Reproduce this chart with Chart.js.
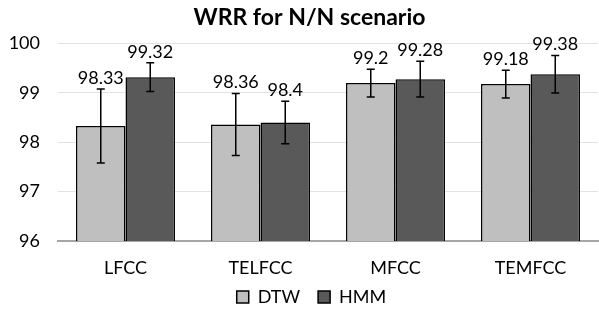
<!DOCTYPE html>
<html>
<head>
<meta charset="utf-8">
<script src="https://cdn.jsdelivr.net/npm/chart.js@4.4.0/dist/chart.umd.min.js"></script>
<style>
  html, body { margin: 0; padding: 0; background: #fff; }
  #wrap { width: 599px; height: 309px; }
</style>
</head>
<body>
<div id="wrap"><canvas id="myChart" width="599" height="309"></canvas></div>
<script>
const labels = ['LFCC', 'TELFCC', 'MFCC', 'TEMFCC'];
const dtw = [98.33, 98.36, 99.2, 99.18];
const hmm = [99.32, 98.4, 99.28, 99.38];
// error bar half-widths
const dtwErr = [0.75, 0.63, 0.28, 0.28];
const hmmErr = [0.29, 0.43, 0.36, 0.38];

const FONT = 'Lato, "Open Sans", sans-serif';

// draws the error bars and the value labels above them
const errorBars = {
  id: 'errorBars',
  afterDatasetsDraw(chart) {
    const ctx = chart.ctx;
    const y = chart.scales.y;
    const errs = [dtwErr, hmmErr];
    ctx.save();
    chart.data.datasets.forEach((ds, i) => {
      const meta = chart.getDatasetMeta(i);
      meta.data.forEach((bar, j) => {
        const v = ds.data[j];
        const e = errs[i][j];
        const top = y.getPixelForValue(v + e);
        const bot = y.getPixelForValue(v - e);
        ctx.strokeStyle = '#000';
        ctx.lineWidth = 1.5;
        ctx.beginPath();
        ctx.moveTo(bar.x, top);
        ctx.lineTo(bar.x, bot);
        ctx.moveTo(bar.x - 4, top);
        ctx.lineTo(bar.x + 4, top);
        ctx.moveTo(bar.x - 4, bot);
        ctx.lineTo(bar.x + 4, bot);
        ctx.stroke();

        ctx.fillStyle = '#000';
        ctx.font = '18px ' + FONT;
        ctx.textAlign = 'center';
        ctx.textBaseline = 'bottom';
        ctx.fillText(String(v), bar.x, top - 2);
      });
    });
    ctx.restore();
  }
};

// legend sits a little closer to the axis labels than the layout allows,
// and legend + title are a bit right of the canvas centre
const nudge = {
  id: 'nudge',
  beforeDraw(chart) {
    const lg = chart.legend;
    lg.top = 270;
    lg.left = 12;
    lg.right = chart.width + 12;
    const tb = chart.titleBlock;
    tb.left = 10;
    tb.right = chart.width + 10;
  }
};

const data = {
  labels,
  datasets: [
    {
      label: 'DTW',
      data: dtw,
      backgroundColor: '#bfbfbf',
      borderColor: '#000',
      borderWidth: 1.5,
    },
    {
      label: 'HMM',
      data: hmm,
      backgroundColor: '#595959',
      borderColor: '#000',
      borderWidth: 1.5,
    },
  ],
};

const config = {
  type: 'bar',
  data: data,
  options: {
    responsive: false,
    animation: false,
    layout: { padding: { left: 0, right: 1, top: 4, bottom: 0 } },
    datasets: {
      bar: { categoryPercentage: 0.733, barPercentage: 1 },
    },
    plugins: {
      title: {
        display: true,
        text: 'WRR for N/N scenario',
        color: '#000',
        font: { family: FONT, size: 23, weight: 'bold' },
        padding: { top: 0, bottom: 12 },
      },
      legend: {
        position: 'bottom',
        maxHeight: 30,
        labels: {
          color: '#000',
          font: { family: FONT, size: 18 },
          boxWidth: 12,
          boxHeight: 12,
          padding: 18,
        },
      },
      tooltip: { enabled: false },
    },
    scales: {
      y: {
        min: 96,
        max: 100,
        ticks: { stepSize: 1, color: '#000', font: { family: FONT, size: 18 }, padding: 18 },
        grid: { color: '#e3e3e3', drawTicks: false },
        border: { display: false },
        afterFit: (scale) => { scale.width = 58; },
      },
      x: {
        ticks: { color: '#000', font: { family: FONT, size: 18 }, padding: 8 },
        grid: { display: false },
        border: { color: '#a6a6a6', width: 2 },
        afterFit: (scale) => { scale.height = 38; },
      },
    },
  },
  plugins: [errorBars, nudge],
};

const myChart = new Chart(document.getElementById('myChart'), config);
</script>
</body>
</html>
